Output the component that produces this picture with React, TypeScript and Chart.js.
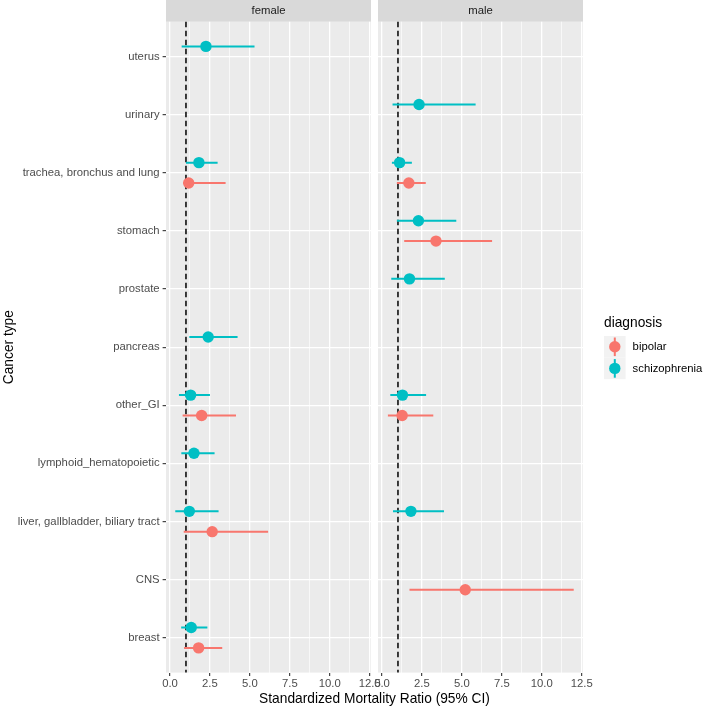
import React, { useEffect, useRef } from 'react';
import { Chart, registerables } from 'chart.js';

Chart.register(...registerables);

// ---------- data ----------
const categories = [
  'breast',
  'CNS',
  'liver, gallbladder, biliary tract',
  'lymphoid_hematopoietic',
  'other_GI',
  'pancreas',
  'prostate',
  'stomach',
  'trachea, bronchus and lung',
  'urinary',
  'uterus',
];
const facets = ['female', 'male'];
const diagnoses = ['bipolar', 'schizophrenia'];
const diagnosisColors = ['#F8766D', '#00BFC4'];
const xTickLabels = [0, 2.5, 5, 7.5, 10, 12.5];
const referenceLine = 1;

// female / bipolar
const femaleBipolarCat = ['breast', 'liver, gallbladder, biliary tract', 'other_GI', 'trachea, bronchus and lung'];
const femaleBipolarSMR = [1.79, 2.64, 1.98, 1.17];
const femaleBipolarLow = [0.88, 0.86, 0.79, 0.83];
const femaleBipolarHigh = [3.27, 6.14, 4.13, 3.48];

// female / schizophrenia
const femaleSchizoCat = ['breast', 'liver, gallbladder, biliary tract', 'lymphoid_hematopoietic', 'other_GI', 'pancreas', 'trachea, bronchus and lung', 'uterus'];
const femaleSchizoSMR = [1.33, 1.21, 1.5, 1.29, 2.39, 1.81, 2.25];
const femaleSchizoLow = [0.7, 0.33, 0.71, 0.56, 1.21, 1.0, 0.73];
const femaleSchizoHigh = [2.34, 3.04, 2.79, 2.5, 4.23, 2.98, 5.29];

// male / bipolar
const maleBipolarCat = ['CNS', 'other_GI', 'stomach', 'trachea, bronchus and lung'];
const maleBipolarSMR = [5.21, 1.26, 3.38, 1.68];
const maleBipolarLow = [1.72, 0.37, 1.39, 0.93];
const maleBipolarHigh = [12.0, 3.21, 6.89, 2.74];

// male / schizophrenia
const maleSchizoCat = ['liver, gallbladder, biliary tract', 'other_GI', 'prostate', 'stomach', 'trachea, bronchus and lung', 'urinary'];
const maleSchizoSMR = [1.81, 1.28, 1.72, 2.28, 1.1, 2.32];
const maleSchizoLow = [0.69, 0.52, 0.58, 0.93, 0.62, 0.66];
const maleSchizoHigh = [3.88, 2.76, 3.93, 4.65, 1.87, 5.86];

// ---------- layout / style ----------
const FONT = '"Liberation Sans", Arial, Helvetica, sans-serif';
const SMALL = 11.3;
const LARGE = 13.75;
const W = 709;
const H = 708;
const PANEL_TOP = 21.7;
const PANEL_BOTTOM = 672.6;
const PANELS = [
  { left: 166, right: 371 },
  { left: 378, right: 583 },
];
const DODGE = [-0.175, 0.175];
const X_MIN = -0.25;
const X_MAX = 12.58;

type Series = { cat: string[]; smr: number[]; low: number[]; high: number[] };

const panelSeries: Series[][] = [
  [
    { cat: femaleBipolarCat, smr: femaleBipolarSMR, low: femaleBipolarLow, high: femaleBipolarHigh },
    { cat: femaleSchizoCat, smr: femaleSchizoSMR, low: femaleSchizoLow, high: femaleSchizoHigh },
  ],
  [
    { cat: maleBipolarCat, smr: maleBipolarSMR, low: maleBipolarLow, high: maleBipolarHigh },
    { cat: maleSchizoCat, smr: maleSchizoSMR, low: maleSchizoLow, high: maleSchizoHigh },
  ],
];

const xGridValues: number[] = [];
xTickLabels.forEach((v, i) => {
  xGridValues.push(v);
  if (i < xTickLabels.length - 1) xGridValues.push((v + xTickLabels[i + 1]) / 2);
});
const isMajor = (v: number) => xTickLabels.some((t) => Math.abs(t - v) < 1e-9);

function buildDatasets(series: Series[]) {
  const out: any[] = [];
  series.forEach((s, d) => {
    const color = diagnosisColors[d];
    const ys = s.cat.map((c) => categories.indexOf(c) + 1 + DODGE[d]);
    const points = s.smr.map((v, i) => ({ x: v, y: ys[i] }));
    const bars: any[] = [];
    s.low.forEach((lo, i) => {
      bars.push({ x: lo, y: ys[i] });
      bars.push({ x: s.high[i], y: ys[i] });
      bars.push({ x: null, y: null });
    });
    out.push({
      label: diagnoses[d] + ' CI',
      data: bars,
      showLine: true,
      spanGaps: false,
      borderColor: color,
      backgroundColor: color,
      borderWidth: 2,
      pointRadius: 0,
      order: 2 + (1 - d) * 2,
    });
    out.push({
      label: diagnoses[d],
      data: points,
      showLine: false,
      pointRadius: 5.7,
      pointBackgroundColor: color,
      pointBorderColor: color,
      pointBorderWidth: 0,
      order: 1 + (1 - d) * 2,
    });
  });
  return out;
}

function makePanelPlugin(panelIndex: number) {
  return {
    id: 'panel' + panelIndex,
    beforeDraw(chart: any) {
      const { ctx, chartArea } = chart;
      ctx.save();
      ctx.fillStyle = '#EBEBEB';
      ctx.fillRect(chartArea.left, chartArea.top, chartArea.right - chartArea.left, chartArea.bottom - chartArea.top);
      // strip
      ctx.fillStyle = '#D9D9D9';
      ctx.fillRect(chartArea.left, 0, chartArea.right - chartArea.left, chartArea.top);
      ctx.fillStyle = '#1A1A1A';
      ctx.font = SMALL + 'px ' + FONT;
      ctx.textAlign = 'center';
      ctx.textBaseline = 'middle';
      ctx.fillText(facets[panelIndex], (chartArea.left + chartArea.right) / 2, chartArea.top / 2 + 0.5);
      ctx.restore();
    },
    beforeDatasetsDraw(chart: any) {
      const { ctx, chartArea, scales } = chart;
      const x = scales.x.getPixelForValue(referenceLine);
      ctx.save();
      ctx.strokeStyle = '#000000';
      ctx.lineWidth = 1.5;
      ctx.setLineDash([5.5, 3.5]);
      ctx.beginPath();
      ctx.moveTo(x, chartArea.top);
      ctx.lineTo(x, chartArea.bottom);
      ctx.stroke();
      ctx.restore();
    },
    afterDraw(chart: any) {
      const { ctx } = chart;
      ctx.save();
      if (panelIndex === 0) {
        ctx.fillStyle = '#000000';
        ctx.font = LARGE + 'px ' + FONT;
        ctx.textAlign = 'center';
        ctx.textBaseline = 'middle';
        ctx.fillText('Standardized Mortality Ratio (95% CI)', (PANELS[0].left + PANELS[1].right) / 2, 699);
      } else {
        const lx = 604;
        const ly = 336;
        const k = 21.6;
        ctx.fillStyle = '#000000';
        ctx.font = LARGE + 'px ' + FONT;
        ctx.textAlign = 'left';
        ctx.textBaseline = 'middle';
        ctx.fillText('diagnosis', lx, 323);
        diagnoses.forEach((d, i) => {
          const top = ly + i * k;
          const cx = lx + k / 2;
          const cy = top + k / 2;
          ctx.fillStyle = '#F2F2F2';
          ctx.fillRect(lx, top, k, k);
          ctx.strokeStyle = diagnosisColors[i];
          ctx.lineWidth = 2;
          ctx.beginPath();
          ctx.moveTo(cx, top + 1.5);
          ctx.lineTo(cx, top + k - 1.5);
          ctx.stroke();
          ctx.fillStyle = diagnosisColors[i];
          ctx.beginPath();
          ctx.arc(cx, cy, 5.7, 0, Math.PI * 2);
          ctx.fill();
          ctx.fillStyle = '#000000';
          ctx.font = SMALL + 'px ' + FONT;
          ctx.fillText(d, lx + k + 7, cy + 0.5);
        });
      }
      ctx.restore();
    },
  };
}

function makeConfig(panelIndex: number): any {
  const isLeft = panelIndex === 0;
  const p = PANELS[panelIndex];
  return {
    type: 'scatter',
    data: { datasets: buildDatasets(panelSeries[panelIndex]) },
    plugins: [makePanelPlugin(panelIndex)],
    options: {
      responsive: false,
      animation: false,
      events: [],
      layout: { padding: { left: isLeft ? 0 : p.left, right: W - p.right, top: PANEL_TOP, bottom: 0 } },
      plugins: { legend: { display: false }, tooltip: { enabled: false } },
      scales: {
        x: {
          type: 'linear',
          min: X_MIN,
          max: X_MAX,
          afterBuildTicks: (s: any) => {
            s.ticks = xGridValues.map((v) => ({ value: v }));
          },
          afterFit: (s: any) => {
            s.height = H - PANEL_BOTTOM;
          },
          border: { display: false },
          grid: {
            color: '#FFFFFF',
            lineWidth: (c: any) => (c.tick && isMajor(c.tick.value) ? 1.3 : 0.65),
            tickColor: (c: any) => (c.tick && isMajor(c.tick.value) ? '#333333' : 'rgba(0,0,0,0)'),
            tickWidth: 1.1,
            tickLength: 3.4,
            drawTicks: true,
          },
          ticks: {
            autoSkip: false,
            maxRotation: 0,
            minRotation: 0,
            padding: 1.5,
            color: '#4D4D4D',
            font: { family: FONT, size: SMALL },
            callback: (v: number) => (isMajor(v) ? v.toFixed(1) : ''),
          },
        },
        y: {
          type: 'linear',
          min: 0.4,
          max: categories.length + 0.6,
          afterBuildTicks: (s: any) => {
            s.ticks = categories.map((_, i) => ({ value: i + 1 }));
          },
          afterFit: (s: any) => {
            s.width = isLeft ? p.left : 0;
          },
          border: { display: false },
          grid: {
            color: '#FFFFFF',
            lineWidth: 1.3,
            tickColor: '#333333',
            tickWidth: 1.1,
            tickLength: 3.4,
            drawTicks: isLeft,
          },
          ticks: {
            display: isLeft,
            autoSkip: false,
            padding: 3,
            color: '#4D4D4D',
            font: { family: FONT, size: SMALL },
            callback: (v: number) => categories[Math.round(v) - 1] ?? '',
          },
          title: {
            display: isLeft,
            text: 'Cancer type',
            color: '#000000',
            font: { family: FONT, size: LARGE },
            padding: { top: 1, bottom: 0 },
          },
        },
      },
    },
  };
}

export default function App() {
  const ref0 = useRef<HTMLCanvasElement>(null);
  const ref1 = useRef<HTMLCanvasElement>(null);

  useEffect(() => {
    Chart.defaults.font.family = FONT;
    const charts: Chart[] = [];
    [ref0, ref1].forEach((r, i) => {
      if (r.current) charts.push(new Chart(r.current, makeConfig(i)));
    });
    return () => charts.forEach((c) => c.destroy());
  }, []);

  const canvasStyle: React.CSSProperties = { position: 'absolute', left: 0, top: 0, width: W, height: H };
  return (
    <div style={{ position: 'absolute', left: 0, top: 0, width: W, height: H, background: '#FFFFFF' }}>
      <canvas ref={ref0} width={W} height={H} style={canvasStyle} />
      <canvas ref={ref1} width={W} height={H} style={canvasStyle} />
    </div>
  );
}
